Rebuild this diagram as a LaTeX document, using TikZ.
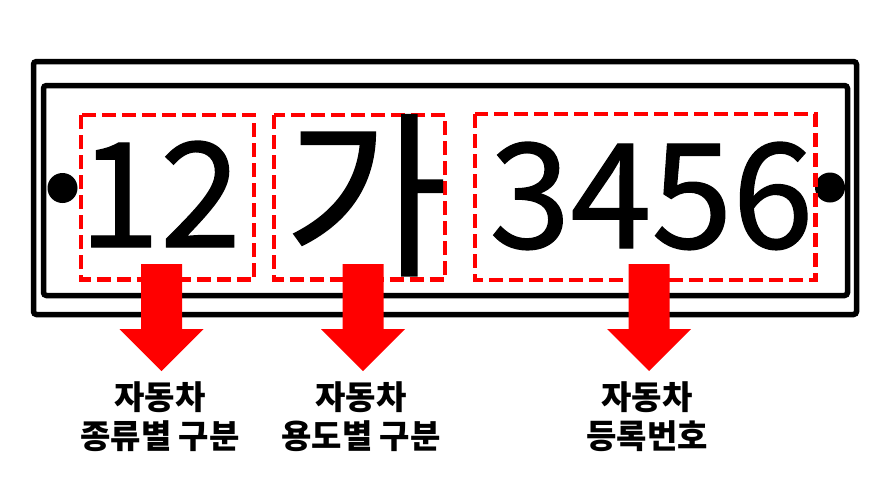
\documentclass[tikz,border=0pt]{standalone}
\usepackage{fontspec}
\newfontfamily\krfont{Noto Sans CJK KR}
\newfontfamily\krbig[FakeBold=0.9]{Noto Sans CJK KR}
\tikzset{
  platebox/.style={draw=black, line width=5.5pt, rounded corners=3pt},
  zonebox/.style={draw=red, line width=4.5pt, dash pattern=on 14pt off 6pt},
  bigtext/.style={inner sep=0pt, anchor=base, font=\krbig\fontsize{146}{146}\selectfont},
  labeltext/.style={inner sep=0pt, align=center, font=\krfont\bfseries\fontsize{33}{39}\selectfont},
  redarrow/.style={fill=red, draw=none},
  hole/.style={circle, fill=black, inner sep=0pt, minimum size=30pt}
}
\begin{document}
\begin{tikzpicture}[x=1pt, y=-1pt]
\useasboundingbox (0,0) rectangle (883,490);
% plate
\draw[platebox] (33.5,61.5) rectangle (856.5,314.5);
\draw[platebox] (43.5,85.5) rectangle (847.5,295.5);
% holes
\node[hole] (lh) at (62.5,188) {};
\node[hole] (rh) at (830,187.5) {};
% zones
\draw[zonebox] (81,115) rectangle (254,279.5);
\draw[zonebox] (274,115) rectangle (445,279.5);
\draw[zonebox] (475,114) rectangle (815.5,280);
% big text
\node[bigtext] (t1) at (160,247) {12};
\node[bigtext, font=\krbig\fontsize{178}{178}\selectfont] (t2) at (366,262) {가};
\node[bigtext] (t3) at (651.5,248) {3456};
% arrows
\foreach \cx/\nm in {161.5/a1, 363/a2, 649/a3}{
  \coordinate (\nm) at (\cx,264);
  \fill[redarrow] ([xshift=-20.5pt]\nm) -- ([xshift=20.5pt]\nm) -- ([xshift=20.5pt,yshift=-65pt]\nm)
     -- ([xshift=42pt,yshift=-65pt]\nm) -- ([yshift=-107pt]\nm) -- ([xshift=-42pt,yshift=-65pt]\nm)
     -- ([xshift=-20.5pt,yshift=-65pt]\nm) -- cycle;
}
% labels
\node[labeltext] (l1) at (160,416.5) {자동차\\종류별 구분};
\node[labeltext] (l2) at (361,416.5) {자동차\\용도별 구분};
\node[labeltext] (l3) at (647,416.5) {자동차\\등록번호};
\end{tikzpicture}
\end{document}
